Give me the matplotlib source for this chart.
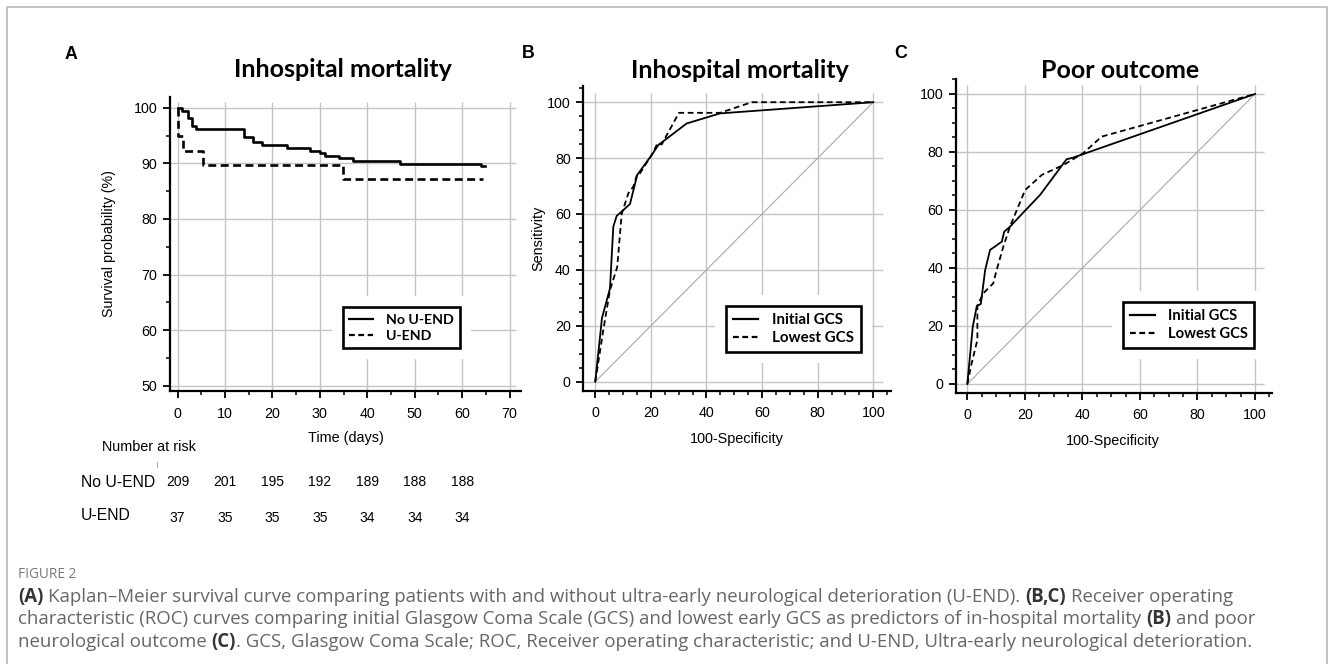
import matplotlib
matplotlib.use("Agg")
import matplotlib.pyplot as plt
from matplotlib.ticker import MultipleLocator
import matplotlib.patheffects as pe
from matplotlib.font_manager import FontProperties
from matplotlib.transforms import blended_transform_factory
from matplotlib.lines import Line2D

# ---------------- data ----------------
# Panel A: Kaplan-Meier (time in days, survival %)
km_no_t = [0, 0.95, 2.15, 3.0, 3.95, 14.0, 15.9, 17.8, 23.0, 27.9, 30.0, 31.1, 34.1, 37.0, 47.0, 63.9, 64.8]
km_no_s = [100, 99.5, 98.1, 96.8, 96.1, 94.8, 93.9, 93.3, 92.8, 92.3, 91.8, 91.3, 90.9, 90.4, 89.9, 89.5, 89.5]
km_u_t = [0, 0, 1.05, 5.27, 34.9, 64.5]
km_u_s = [100, 94.9, 92.3, 89.7, 87.1, 87.1]
risk_times = [0, 10, 20, 30, 40, 50, 60]
risk_no = [209, 201, 195, 192, 189, 188, 188]
risk_u = [37, 35, 35, 35, 34, 34, 34]
km_labels = ["No U-END", "U-END"]

# Panel B: ROC in-hospital mortality (100-specificity, sensitivity)
b_init_x = [0, 2.1, 2.4, 5.3, 6.5, 7.7, 10.1, 12.5, 15.1, 20.3, 22.7, 32.9, 44.9, 100]
b_init_y = [0, 19.7, 22.7, 33.4, 55.5, 59.3, 61.4, 63.6, 74.0, 81.1, 84.7, 92.4, 96.0, 100]
b_low_x = [0, 2.9, 5.3, 7.9, 9.5, 11.9, 13.7, 15.1, 15.9, 20.3, 22.4, 23.9, 30.1, 44.9, 56.3, 100]
b_low_y = [0, 18.5, 32.8, 41.0, 60.0, 67.4, 69.8, 74.3, 74.3, 81.1, 85.3, 84.9, 96.2, 96.2, 100, 100]

# Panel C: ROC poor outcome
c_init_x = [0, 1.9, 3.3, 4.7, 6.2, 7.9, 12.0, 12.8, 14.8, 20.1, 25.3, 34.5, 36.6, 100]
c_init_y = [0, 19.8, 26.9, 27.6, 39.3, 46.2, 49.1, 52.5, 54.2, 59.8, 65.2, 77.5, 78.0, 100]
c_low_x = [0, 1.5, 3.5, 3.5, 5.6, 9.0, 10.2, 12.5, 14.8, 20.1, 25.9, 33.4, 40.3, 46.7, 100]
c_low_y = [0, 7.1, 15.2, 27.0, 31.3, 34.7, 39.3, 47.3, 54.2, 66.9, 72.1, 75.5, 79.6, 85.3, 100]
roc_labels = ["Initial GCS", "Lowest GCS"]
chance = [0, 100]

km_xticks = [0, 10, 20, 30, 40, 50, 60, 70]
km_yticks = [50, 60, 70, 80, 90, 100]
roc_ticks = [0, 20, 40, 60, 80, 100]

titles = ["Inhospital mortality", "Inhospital mortality", "Poor outcome"]
panel_letters = ["A", "B", "C"]

caption_head = "FIGURE 2"
caption_lines = [
    [("(A)", True), (" Kaplan\u2013Meier survival curve comparing patients with and without ultra-early neurological deterioration (U-END). ", False),
     ("(B,C)", True), (" Receiver operating", False)],
    [("characteristic (ROC) curves comparing initial Glasgow Coma Scale (GCS) and lowest early GCS as predictors of in-hospital mortality ", False),
     ("(B)", True), (" and poor", False)],
    [("neurological outcome ", False), ("(C)", True),
     (". GCS, Glasgow Coma Scale; ROC, Receiver operating characteristic; and U-END, Ultra-early neurological deterioration.", False)],
]

# ---------------- figure ----------------
W, H = 1330, 664
fig = plt.figure(figsize=(W / 100, H / 100), dpi=100)
fig.patch.set_facecolor("white")


def fx(px):
    return px / W


def fy(py):
    return 1 - py / H


def box(left, top, right, bottom):
    return [fx(left), fy(bottom), (right - left) / W, (bottom - top) / H]


ARIAL = "Liberation Sans"
CAL = "Lato"
GRID = "#c4c4c4"

plt.rcParams["font.family"] = [ARIAL, "DejaVu Sans"]


def style_axes(ax, xlim, ylim, xt, yt, gtop, gright, minor=5):
    ax.set_xlim(*xlim)
    ax.set_ylim(*ylim)
    for s in ["top", "right"]:
        ax.spines[s].set_visible(False)
    for s in ["left", "bottom"]:
        ax.spines[s].set_linewidth(1.6)
    ax.set_xticks(xt)
    ax.set_yticks(yt)
    ax.xaxis.set_minor_locator(MultipleLocator(minor))
    ax.yaxis.set_minor_locator(MultipleLocator(minor))
    ax.tick_params(which="major", length=5, width=1.3, labelsize=10.3, direction="out", color="black")
    ax.tick_params(axis="x", which="major", pad=6)
    ax.tick_params(axis="y", which="major", pad=4)
    ax.tick_params(which="minor", length=3, width=1.1, direction="out")
    ax.vlines(xt, ylim[0], gtop, color=GRID, lw=1.0, zorder=0)
    ax.hlines(yt, xlim[0], gright, color=GRID, lw=1.0, zorder=0)


def make_legend(ax, labels, left, top, size=10.2, hl=1.68, htp=0.9):
    handles = [Line2D([], [], color="black", lw=1.6),
               Line2D([], [], color="black", lw=1.6, dashes=(2.6, 1.6))]
    leg = ax.legend(handles, labels, loc="upper left", bbox_to_anchor=(fx(left), fy(top)),
                    bbox_transform=fig.transFigure, borderaxespad=0, frameon=True, fancybox=False,
                    edgecolor="black", framealpha=1, facecolor="white",
                    prop=FontProperties(family=CAL, weight="bold", size=size),
                    handlelength=hl, handletextpad=htp, borderpad=0.45, labelspacing=0.28)
    fr = leg.get_frame()
    fr.set_linewidth(1.9)
    fr.set_path_effects([pe.Stroke(linewidth=16, foreground="white"), pe.Normal()])
    leg.set_zorder(5)
    return leg


# ---- Panel A ----
axA = fig.add_axes(box(170, 96.6, 521.4, 391.3))
style_axes(axA, (-1.6, 72.5), (49, 102), km_xticks, km_yticks, 101.1, 71.3)
axA.plot(km_no_t, km_no_s, drawstyle="steps-post", color="black", lw=1.9, zorder=3)
axA.plot(km_u_t, km_u_s, drawstyle="steps-post", color="black", lw=1.9, dashes=(3.0, 1.7), zorder=3)
axA.set_xlabel("Time (days)", fontsize=10.4)
axA.xaxis.set_label_coords(0.5009, -0.1574)
axA.xaxis.label.set_va("center")
axA.set_ylabel("Survival probability (%)", fontsize=10.3)
axA.yaxis.set_label_coords(-0.174, 0.5)
axA.yaxis.label.set_va("center")
make_legend(axA, km_labels, 342.7, 307.3, size=10.2)

# number at risk table
fig.text(fx(148.8), fy(446.7), "Number at risk", ha="center", va="center", fontsize=10.4)
fig.add_artist(Line2D([fx(157), fx(157)], [fy(462), fy(467)], color="#9fb3c8", lw=0.8))
fig.text(fx(80.7), fy(482.3), "No U-END", ha="left", va="center", fontsize=11.3)
fig.text(fx(80.7), fy(516.0), "U-END", ha="left", va="center", fontsize=11.3)
trA = blended_transform_factory(axA.transData, fig.transFigure)
for t, n1, n2 in zip(risk_times, risk_no, risk_u):
    axA.text(t, fy(482.3), str(n1), transform=trA, ha="center", va="center", fontsize=10, clip_on=False)
    axA.text(t, fy(517.5), str(n2), transform=trA, ha="center", va="center", fontsize=10, clip_on=False)

# ---- Panel B ----
axB = fig.add_axes(box(583.3, 86.0, 890.5, 390.9))
style_axes(axB, (-4.3, 106.2), (-3.3, 105.8), roc_ticks, roc_ticks, 103.4, 103.4)
axB.plot(chance, chance, color="#a8a8a8", lw=0.8, zorder=1)
axB.plot(b_init_x, b_init_y, color="black", lw=1.3, zorder=3)
axB.plot(b_low_x, b_low_y, color="black", lw=1.3, dashes=(3.2, 2.0), zorder=3)
axB.set_xlabel("100-Specificity", fontsize=10.4)
axB.xaxis.set_label_coords(0.4993, -0.1587)
axB.xaxis.label.set_va("center")
axB.set_ylabel("Sensitivity", fontsize=10.4)
axB.yaxis.set_label_coords(-0.1465, 0.5)
axB.yaxis.label.set_va("center")
make_legend(axB, roc_labels, 726, 306, size=10.9)

# ---- Panel C ----
axC = fig.add_axes(box(956.1, 78.6, 1271.7, 392.7))
style_axes(axC, (-3.9, 105.8), (-3.0, 105.3), roc_ticks, roc_ticks, 103, 103)
axC.plot(chance, chance, color="#a8a8a8", lw=0.8, zorder=1)
axC.plot(c_init_x, c_init_y, color="black", lw=1.3, zorder=3)
axC.plot(c_low_x, c_low_y, color="black", lw=1.3, dashes=(3.2, 2.0), zorder=3)
axC.set_xlabel("100-Specificity", fontsize=10.4)
axC.xaxis.set_label_coords(0.497, -0.1528)
axC.xaxis.label.set_va("center")
make_legend(axC, roc_labels, 1123.3, 302.3, size=10.6)

# titles and panel letters
for (cx, cy), t in zip([(342.7, 69.3), (740, 70.7), (1120, 70)], titles):
    fig.text(fx(cx), fy(cy), t, ha="center", va="center", family=CAL, fontweight="bold", fontsize=18)
for (lx, ly), l in zip([(65, 54.5), (522, 54), (894, 53)], panel_letters):
    fig.text(fx(lx), fy(ly), l, ha="left", va="center", fontweight="bold", fontsize=12.8)

# figure frame
fig.add_artist(Line2D([fx(6.8), fx(6.8), fx(1327), fx(1327)], [0, fy(6.5), fy(6.5), 0],
                      transform=fig.transFigure, color="#bdbdbd", lw=1.3))

# caption
renderer = fig.canvas.get_renderer()
CAPF = "Open Sans"
CAPS = 13.45


def text_width(s, weight):
    t = fig.text(0, 0, s, family=CAPF, fontweight=weight, fontsize=CAPS)
    w = t.get_window_extent(renderer).width
    t.remove()
    return w


space_w = {w: text_width("a a", w) - text_width("aa", w) for w in ["normal", "bold"]}


def rich_line(x_px, y_px, segs):
    x = x_px
    for s, bold in segs:
        weight = "bold" if bold else "normal"
        lead = len(s) - len(s.lstrip(" "))
        trail = len(s) - len(s.rstrip(" "))
        core = s.strip(" ")
        x += lead * space_w[weight]
        t = fig.text(fx(x), fy(y_px), core, family=CAPF, fontweight=weight, fontsize=CAPS,
                     color="#333333" if bold else "#666666", ha="left", va="center")
        x += t.get_window_extent(renderer).width
        x += trail * space_w[weight]


fig.text(fx(18), fy(574), caption_head, family=CAPF, fontsize=9.8, color="#777777", ha="left", va="center")
for i, segs in enumerate(caption_lines):
    rich_line(18, 597 + i * 22.3, segs)

fig.savefig("out.png", dpi=100, facecolor="white")
